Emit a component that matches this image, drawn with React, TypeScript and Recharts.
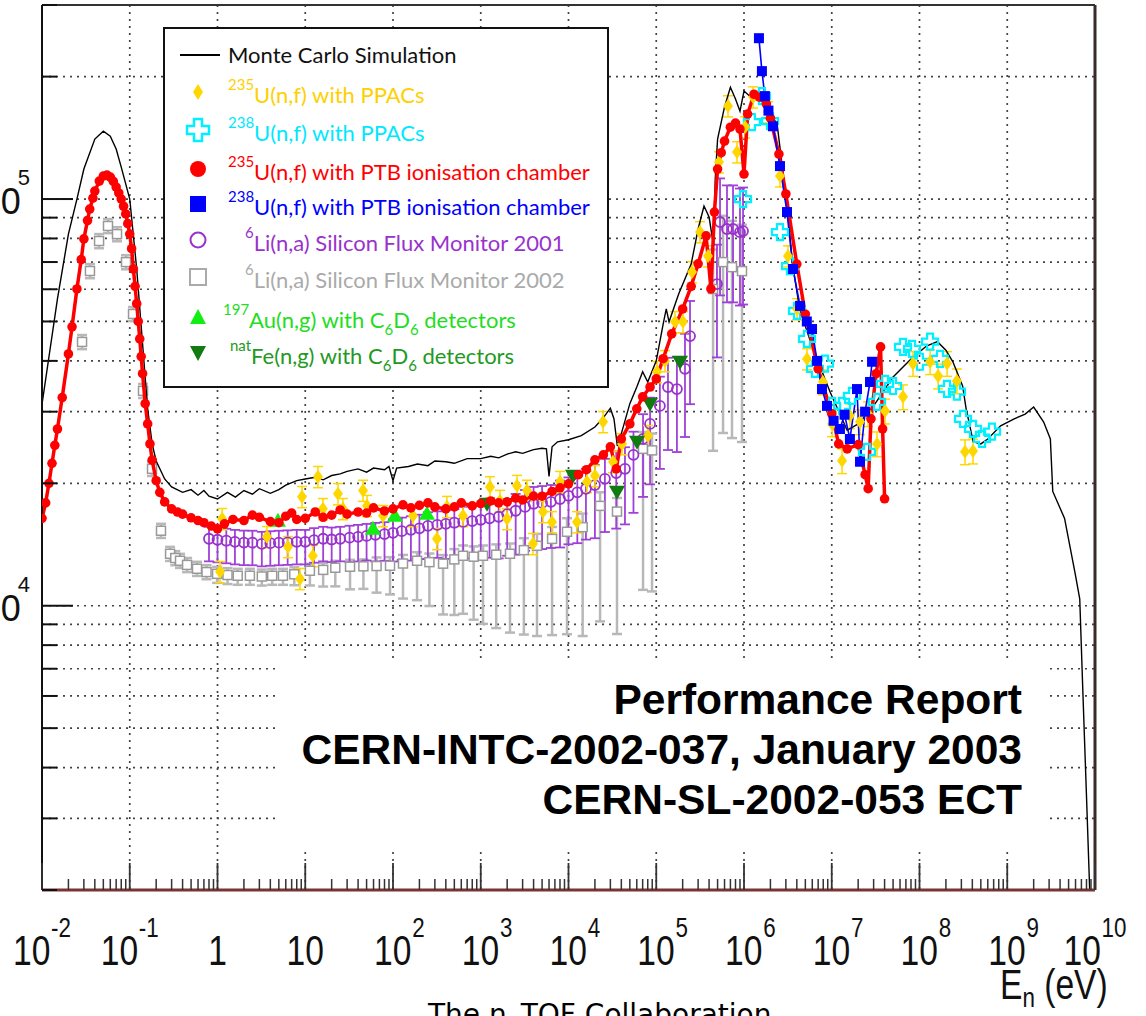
import React from 'react';
import { ComposedChart, Line, Scatter, XAxis, YAxis, CartesianGrid, ErrorBar, Legend, ReferenceLine } from 'recharts';

// neutron energy (eV), counts
const monteCarlo: number[][] = [
  [0.01, 31300], [0.015, 56800], [0.02, 82000], [0.025, 100000], [0.03, 118500], [0.04, 140400], [0.05, 146900],
  [0.06, 142800], [0.07, 132700], [0.08, 119800], [0.1, 100000], [0.12, 67300], [0.14, 44000], [0.16, 30500],
  [0.18, 25000], [0.2, 22700], [0.25, 20500], [0.3, 19600], [0.4, 19000], [0.5, 19300], [0.6, 18700], [0.7, 19200],
  [0.8, 18600], [1, 18300], [1.3, 19000], [1.6, 18500], [2, 19200], [2.5, 18800], [3, 19400], [4, 18900], [5, 19300],
  [6, 19800], [8, 20300], [10, 20500], [13, 20700], [16, 20400], [20, 20900], [25, 21100], [30, 21400], [40, 21700],
  [50, 21300], [60, 21800], [80, 21600], [90, 22000], [100, 20300], [110, 21800], [150, 22000], [190, 22300],
  [250, 22100], [300, 22700], [400, 22600], [500, 22400], [700, 23000], [1000, 23000], [1300, 23300], [1600, 23100],
  [2000, 23600], [2500, 23900], [3000, 23700], [4000, 24200], [5000, 24400], [5600, 24300], [6000, 20800],
  [6500, 24600], [7500, 25300], [1e4, 25600], [1.4e4, 26200], [2e4, 27500], [2.5e4, 29000], [3e4, 30600],
  [3.3e4, 28800], [3.6e4, 24700], [4e4, 26500], [5e4, 31400], [6e4, 34500], [7e4, 37600], [8e4, 35500],
  [1e5, 40000], [1.2e5, 49300], [1.3e5, 53700], [1.4e5, 49900], [1.8e5, 58400], [2.5e5, 69200], [3e5, 84400],
  [3.5e5, 96100], [4e5, 90300], [4.5e5, 76700], [4.7e5, 112000], [5e5, 140400], [6e5, 168500], [7e5, 188300],
  [8e5, 176100], [9e5, 164500], [1e6, 184300], [1.2e6, 178000], [1.5e6, 176100], [2e6, 165000], [2.4e6, 151000],
  [3.1e6, 96000], [3.6e6, 68500], [4.3e6, 53700], [5.6e6, 45300], [7.3e6, 38900], [9.6e6, 33500], [1.5e7, 27000],
  [2e7, 28000], [3e7, 31000], [4e7, 34000], [5e7, 36500], [8e7, 40400], [1.2e8, 43500], [1.6e8, 44600],
  [2e8, 42500], [2.4e8, 39800], [3.1e8, 34700], [3.4e8, 30500], [4.1e8, 25300], [5e8, 25000], [6e8, 25700],
  [8.4e8, 27700], [1.2e9, 28800], [1.6e9, 29600], [2e9, 30800], [2.6e9, 28300], [3.1e9, 25700], [3.3e9, 19100],
  [4.5e9, 16400], [5.9e9, 12100], [6.7e9, 10400], [7.3e9, 6000], [8e9, 3400], [8.7e9, 2000],
];

const u235Ptb: number[][] = [
  [0.01, 16400], [0.011, 17900], [0.012, 20000], [0.013, 22400], [0.014, 24800], [0.015, 27200], [0.017, 32500],
  [0.02, 41600], [0.022, 48500], [0.025, 60100], [0.028, 71000], [0.03, 79800], [0.033, 88500], [0.035, 94500],
  [0.038, 100500], [0.04, 104600], [0.045, 110700], [0.05, 113900], [0.055, 114500], [0.06, 113200],
  [0.065, 110500], [0.07, 107000], [0.075, 103500], [0.08, 100000], [0.085, 96000], [0.09, 91900], [0.095, 87000],
  [0.1, 82000], [0.105, 75500], [0.11, 67300], [0.115, 61000], [0.12, 55300], [0.125, 50000], [0.13, 45300],
  [0.135, 41000], [0.14, 37200], [0.15, 31400], [0.16, 28000], [0.17, 25000], [0.18, 22800], [0.2, 20300],
  [0.22, 19000], [0.25, 18000], [0.3, 17300], [0.35, 17000], [0.4, 16800], [0.5, 16450], [0.6, 16200],
  [0.7, 16000], [0.85, 15700], [1, 15460], [1.2, 15900], [1.5, 16300], [2, 16200], [2.5, 16700], [3, 16500],
  [4, 16100], [5, 16000], [6, 16600], [7, 16900], [8, 16300], [10, 16400], [13, 17000], [16, 16500], [20, 16700],
  [25, 17200], [30, 16800], [40, 17000], [50, 16900], [60, 17400], [80, 17100], [100, 17300], [130, 17700],
  [160, 17400], [200, 17650], [250, 17900], [300, 17500], [400, 17300], [500, 17500], [600, 17900], [800, 17600],
  [1000, 17830], [1300, 18100], [1600, 17900], [2000, 18000], [2500, 18400], [3000, 18200], [4000, 18600],
  [5000, 18590], [6500, 19100], [8000, 19500], [1e4, 19940], [1.3e4, 21000], [1.6e4, 21600], [2e4, 22850],
  [2.5e4, 23500], [3e4, 24590], [3.5e4, 21700], [4e4, 25720], [5e4, 28000], [6e4, 30500], [7e4, 32630],
  [8.5e4, 34500], [1e5, 36130], [1.2e5, 40500], [1.5e5, 46600], [2e5, 53670], [2.5e5, 61000], [3e5, 69300],
  [3.7e5, 81200], [4.2e5, 60100], [4.6e5, 92900], [5e5, 118500], [5.5e5, 130000], [6e5, 138800], [7e5, 150200],
  [8e5, 153700], [9e5, 148600], [1e6, 115200], [1.1e6, 161800], [1.3e6, 181000], [1.5e6, 178000],
  [1.8e6, 171200], [2e6, 158100], [2.5e6, 129000], [3e6, 102900], [4e6, 69200], [5e6, 52100], [7e6, 38230],
  [1e7, 29650], [1.2e7, 25000], [1.5e7, 24310], [2e7, 24900], [2.4e7, 21000], [2.6e7, 19400], [2.8e7, 28810],
  [3.2e7, 37200], [3.6e7, 43300], [3.8e7, 27220], [4e7, 18320],
];

const u238Ptb: number[][] = [
  [1.48e6, 248600], [1.6e6, 206300], [1.73e6, 179100], [1.9e6, 165000], [2.14e6, 151000], [2.57e6, 120500],
  [3.09e6, 92900], [3.62e6, 67300], [4.35e6, 54600], [5.2e6, 50000], [5.96e6, 47900], [6.8e6, 40000],
  [7.74e6, 34100], [8.83e6, 31000], [1.05e7, 28500], [1.24e7, 27200], [1.4e7, 29500], [1.61e7, 25700],
  [1.94e7, 34100], [2.1e7, 22600], [2.4e7, 30000], [2.73e7, 35500], [2.88e7, 39800],
];

const u238Ppac: number[][] = [
  [9.75e5, 100000], [1.23e6, 154600], [1.6e6, 179100], [1.98e6, 155500], [2.57e6, 82900], [3.34e6, 68400],
  [4.02e6, 53100], [5.22e6, 45300], [6.44e6, 38230], [8.37e6, 39400], [1.01e7, 31000], [1.31e7, 31000],
  [1.7e7, 32800], [2.52e7, 23900], [3.28e7, 31700], [4.05e7, 35100], [4.99e7, 34700], [6.49e7, 43300],
  [8.22e7, 42800], [1.01e8, 39800], [1.32e8, 44600], [1.71e8, 40450], [2.06e8, 34140], [2.67e8, 33600],
  [3.13e8, 28810], [4.07e8, 27220], [5.16e8, 25720], [6.7e8, 26800],
];

// energy, counts, error %
const u235Ppac: number[][] = [
  [1.07, 12120, 6], [1.13, 16360, 6], [3.66, 14770, 6], [6.36, 13960, 6], [8.71, 11650, 6], [9.18, 18530, 6],
  [12.2, 13270, 6], [13.96, 20750, 6], [15.9, 17310, 6], [23.6, 18840, 6], [26.9, 17310, 6], [45.5, 19200, 6],
  [50.6, 17620, 6], [76.9, 16640, 6], [169, 16640, 6], [317, 14610, 6], [412, 17520, 6], [628, 16640, 6],
  [1275, 19590, 6], [1656, 18130, 6], [1991, 16360, 6], [2588, 19730, 6], [3365, 19200, 6], [3937, 14200, 6],
  [5117, 17020, 6], [6486, 16070, 6], [8000, 20180, 6], [12500, 16070, 6], [16250, 20180, 6], [20050, 20860, 6],
  [24770, 28330, 6], [32150, 22600, 6], [40740, 25000, 6], [80500, 26170, 6], [102000, 37600, 6],
  [126000, 40000, 6], [163700, 49900, 6], [201800, 49900, 6], [255800, 66200, 6], [315500, 83000, 6],
  [389000, 72400, 6], [519000, 123300, 6], [657000, 169300, 6], [832000, 130500, 6], [1.03e6, 150300, 6],
  [1.27e6, 178100, 6], [1.88e6, 163700, 6], [2.57e6, 113900, 6], [3.17e6, 72400, 6], [4.02e6, 53670, 6],
  [5.22e6, 40450, 6], [7.94e6, 35500, 7], [1.01e7, 28000, 7], [1.31e7, 22720, 7], [1.61e7, 29300, 7],
  [2.1e7, 28330, 7], [2.59e7, 29650, 7], [3.28e7, 25000, 7], [4.05e7, 30100, 7], [6.49e7, 32630, 7],
  [8.43e7, 39400, 7], [1.32e8, 39800, 7], [1.63e8, 36700, 7], [2.06e8, 39400, 7], [2.67e8, 35700, 7],
  [3.3e8, 23900, 7], [4.07e8, 24000, 7],
];

// energy, counts, lower error %, upper error %
const li6Flux2001: number[][] = [
  [0.8, 14610, 12, 7], [1, 14530, 12, 7], [1.26, 14450, 12, 7], [1.58, 14360, 12, 7], [2, 14300, 12, 7],
  [2.5, 14290, 12, 7], [3.2, 14200, 12, 7], [4, 14250, 12, 7], [5, 14290, 12, 7], [6.3, 14320, 12, 7],
  [8, 14360, 12, 7], [10, 14360, 12, 7], [12.6, 14500, 12, 7], [16, 14610, 12, 7], [20, 14550, 12, 7],
  [25, 14610, 12, 7], [32, 14700, 13, 7], [40, 14770, 13, 7], [50, 14850, 13, 7], [63, 14940, 14, 7],
  [80, 15000, 14, 7], [100, 15110, 15, 8], [126, 15250, 15, 8], [160, 15370, 16, 8], [200, 15500, 16, 8],
  [250, 15720, 17, 8], [320, 15800, 17, 8], [400, 15900, 18, 8], [500, 16000, 18, 8], [630, 16070, 19, 9],
  [800, 16150, 19, 9], [1000, 16260, 20, 9], [1260, 16400, 20, 9], [1600, 16550, 21, 9], [2000, 16800, 21, 9],
  [2500, 17120, 22, 10], [3200, 17500, 22, 10], [4000, 17810, 22, 10], [5000, 17900, 23, 10],
  [6300, 18010, 23, 10], [8000, 18300, 24, 11], [1e4, 18630, 24, 11], [12600, 19000, 25, 11],
  [15800, 19390, 25, 12], [20000, 19800, 26, 12], [26000, 20510, 26, 12], [35000, 21200, 27, 13],
  [44000, 21710, 27, 13], [55000, 23500, 28, 14], [70700, 25720, 28, 15], [85000, 28000, 29, 16],
  [110000, 31000, 30, 18], [136000, 34500, 30, 18], [172000, 34100, 30, 20], [212600, 38230, 32, 22],
  [242600, 46030, 32, 22], [492000, 61800, 34, 25], [533000, 87800, 34, 28], [640000, 84400, 34, 28],
  [750000, 84400, 34, 28], [900000, 82900, 34, 28], [975000, 83400, 34, 28],
];

const li6Flux2002: number[][] = [
  [0.0286, 44530, 4, 4], [0.0352, 66540, 4, 4], [0.0447, 78850, 4, 4], [0.0565, 85860, 4, 4], [0.0716, 82000, 4, 4],
  [0.0906, 69980, 4, 4], [0.109, 52170, 4, 4], [0.1416, 33760, 4, 4], [0.1794, 21710, 4, 4], [0.227, 15290, 4, 4],
  [0.288, 13420, 4, 4], [0.33, 13100, 4, 4], [0.374, 12900, 4, 4], [0.45, 12600, 4, 4], [0.584, 12330, 4, 4],
  [0.75, 12100, 4, 4], [0.99, 11980, 5, 4], [1.3, 11900, 5, 4], [1.7, 11850, 5, 4], [2.34, 11850, 5, 4],
  [3.2, 11800, 5, 4], [4.2, 11850, 5, 4], [5.57, 11850, 5, 4], [7.5, 11950, 6, 4], [11.3, 12190, 8, 4],
  [16, 12250, 9, 4], [22, 12400, 10, 4], [32.4, 12470, 12, 4], [46, 12500, 12, 4], [65, 12520, 14, 5],
  [92.5, 12540, 15, 5], [130, 12700, 18, 5], [188, 12900, 20, 5], [260, 12800, 22, 5], [372, 12690, 25, 5],
  [500, 13000, 27, 6], [628, 13270, 28, 6], [830, 13200, 30, 6], [1061, 13270, 32, 6], [1500, 13350, 34, 6],
  [2155, 13420, 36, 6], [3100, 13700, 38, 7], [4375, 14040, 40, 7], [6500, 14600, 42, 7], [9616, 15200, 44, 8],
  [14500, 15600, 46, 8], [22900, 17600, 48, 8], [35700, 17040, 50, 8], [70700, 24310, 55, 10],
  [89500, 24100, 55, 10], [444000, 60100, 60, 25], [577000, 69980, 62, 30], [730000, 68000, 62, 30],
  [949000, 66500, 62, 30],
];

const au197: number[][] = [[4.89, 16180], [59.2, 15460], [105, 16640], [244, 16830]];
const feNat: number[][] = [[1178, 17810], [11250, 20860], [35730, 19060], [60400, 25290], [84900, 31360], [186600, 39800]];

const xDecades = [0.01, 0.1, 1, 10, 100, 1e3, 1e4, 1e5, 1e6, 1e7, 1e8, 1e9, 1e10];
const xTickLabels = [
  ['10', '-2'], ['10', '-1'], ['1', ''], ['10', ''], ['10', '2'], ['10', '3'], ['10', '4'],
  ['10', '5'], ['10', '6'], ['10', '7'], ['10', '8'], ['10', '9'], ['10', '10'],
];
const yTickValues = [
  2000, 3000, 4000, 5000, 6000, 7000, 8000, 9000, 10000, 20000, 30000, 40000, 50000, 60000, 70000, 80000,
  90000, 100000, 200000, 300000,
];
const yMajors = [10000, 100000];
const yTickLabels = [['10', '4'], ['10', '5']];

const xTicks: number[] = [];
xDecades.forEach((d, i) => {
  xTicks.push(d);
  if (i < xDecades.length - 1) [2, 3, 4, 5, 6, 7, 8, 9].forEach((m) => xTicks.push(d * m));
});

const pts = (d: number[][]) => d.map(([x, y]) => ({ x, y }));
const ptsErr = (d: number[][]) =>
  d.map(([x, y, lo, hi]) => ({ x, y, err: [(y * lo) / 100, (y * (hi ?? lo)) / 100] }));

const SANS = "'Liberation Sans', Arial, sans-serif";
const LEG = "Lato, 'Noto Sans', sans-serif";

const XTick = (props: any) => {
  const { x, y, payload } = props;
  const v = payload.value;
  const i = xDecades.findIndex((d) => Math.abs(d - v) / d < 1e-6);
  if (i < 0) return <line x1={x} x2={x} y1={y} y2={y - 11} stroke="#333" strokeWidth={1.5} />;
  const [base, exp] = xTickLabels[i];
  const mid = exp === '' || exp.length > 1;
  return (
    <g>
      <line x1={x} x2={x} y1={y} y2={y - 27} stroke="#333" strokeWidth={1.8} />
      <text
        transform={`translate(${mid ? x : x - 19},${y + 75}) scale(0.8,1)`}
        textAnchor={mid ? 'middle' : 'start'}
        fontFamily={SANS}
        fontSize={42}
        fill="#111"
      >
        {base}
        {exp && <tspan dx={1} dy={-28} fontSize={28}>{exp}</tspan>}
      </text>
    </g>
  );
};

const YTick = (props: any) => {
  const { x, y, payload } = props;
  const i = yMajors.indexOf(payload.value);
  return (
    <g>
      <line x1={x} x2={x + (i >= 0 ? 31 : 15)} y1={y} y2={y} stroke="#111" strokeWidth={2} />
      {i >= 0 && (
        <text x={30} y={y + 15} textAnchor="end" fontFamily={SANS} fontSize={36} fill="#111">
          {yTickLabels[i][0]}
          <tspan dx={-3} dy={-29} fontSize={22}>{yTickLabels[i][1]}</tspan>
        </text>
      )}
    </g>
  );
};

const Diamond = ({ cx, cy }: any) => (
  <path d={`M${cx},${cy - 7}L${cx + 5},${cy}L${cx},${cy + 7}L${cx - 5},${cy}Z`} fill="#ffd700" />
);
const Cross = ({ cx, cy }: any) => (
  <path d={`M${cx - 3},${cy - 8}h6v5h5v6h-5v5h-6v-5h-5v-6h5Z`} fill="none" stroke="#00f0ff" strokeWidth={2.2} />
);
const OpenCircle = ({ cx, cy }: any) => <circle cx={cx} cy={cy} r={5} fill="none" stroke="#9932cc" strokeWidth={1.8} />;
const OpenSquare = ({ cx, cy }: any) => (
  <rect x={cx - 4.5} y={cy - 4.5} width={9} height={9} fill="#fff" stroke="#999" strokeWidth={1.5} />
);
const UpTri = ({ cx, cy }: any) => <path d={`M${cx},${cy - 8}L${cx + 8},${cy + 6}L${cx - 8},${cy + 6}Z`} fill="#11ee11" />;
const DownTri = ({ cx, cy }: any) => <path d={`M${cx - 8},${cy - 6}L${cx + 8},${cy - 6}L${cx},${cy + 8}Z`} fill="#117a11" />;
const RedDot = (p: any) => <circle key={`r${p.index}`} cx={p.cx} cy={p.cy} r={4.8} fill="#ff0000" />;
const BlueDot = (p: any) => <rect key={`b${p.index}`} x={p.cx - 5} y={p.cy - 5} width={10} height={10} fill="#0000ff" />;

const LegendBox = () => {
  const row = (y: number, x: number, color: string, sup: string, body: React.ReactNode) => (
    <text x={x} y={y} fill={color} fontFamily={LEG} fontSize={22}>
      <tspan fontSize={15} dy={-13}>{sup}</tspan>
      <tspan dy={13}>{body}</tspan>
    </text>
  );
  const c6d6 = (
    <>
      C<tspan fontSize={15} dy={7}>6</tspan>
      <tspan dy={-7}>D</tspan>
      <tspan fontSize={15} dy={7}>6</tspan>
      <tspan dy={-7}> detectors</tspan>
    </>
  );
  return (
    <svg width={446} height={361} style={{ display: 'block' }}>
      <rect x={1} y={1} width={444} height={359} fill="#fff" stroke="#111" strokeWidth={2} />
      <line x1={17} x2={57} y1={28} y2={28} stroke="#000" strokeWidth={2} />
      <text x={65} y={36} fill="#111" fontFamily={LEG} fontSize={22}>Monte Carlo Simulation</text>
      <path d="M35,57L40,65L35,73L30,65Z" fill="#ffd700" />
      {row(76, 65, '#ffd000', '235', 'U(n,f) with PPACs')}
      <path d="M31,92h8v7h7v8h-7v7h-8v-7h-7v-8h7Z" fill="none" stroke="#00f0ff" strokeWidth={2.5} />
      {row(114, 65, '#00e8ff', '238', 'U(n,f) with PPACs')}
      <circle cx={35} cy={142} r={8} fill="#ff0000" />
      {row(153, 65, '#ff0000', '235', 'U(n,f) with PTB ionisation chamber')}
      <rect x={27} y={169} width={16} height={16} fill="#0000ff" />
      {row(188, 65, '#0000ff', '238', 'U(n,f) with PTB ionisation chamber')}
      <circle cx={35} cy={213} r={7.5} fill="none" stroke="#9932cc" strokeWidth={2} />
      {row(224, 82, '#9932cc', '6', 'Li(n,a) Silicon Flux Monitor 2001')}
      <rect x={27} y={242} width={16} height={16} fill="none" stroke="#aaa" strokeWidth={2} />
      {row(261, 82, '#aaaaaa', '6', 'Li(n,a) Silicon Flux Monitor 2002')}
      <path d="M35,282L43,297L27,297Z" fill="#11ee11" />
      {row(301, 60, '#22dd22', '197', <>Au(n,g) with {c6d6}</>)}
      <path d="M27,319L43,319L35,334Z" fill="#117a11" />
      {row(337, 67, '#229922', 'nat', <>Fe(n,g) with {c6d6}</>)}
    </svg>
  );
};

export default function App() {
  return (
    <div style={{ position: 'absolute', left: 0, top: 0, width: 1146, height: 1016, overflow: 'hidden', background: '#fff' }}>
      <ComposedChart width={1146} height={1016} margin={{ top: 5, right: 51, bottom: 0, left: 0 }}>
        <CartesianGrid
          stroke="#444"
          strokeWidth={1.7}
          strokeDasharray="2 5"
          verticalValues={xDecades.slice(1, -1)}
          horizontalValues={yTickValues}
        />
        <XAxis
          dataKey="x"
          type="number"
          scale="log"
          domain={[0.01, 1e10]}
          allowDataOverflow
          ticks={xTicks}
          interval={0}
          height={126}
          tickSize={0}
          tickMargin={0}
          tickLine={false}
          tick={<XTick />}
          axisLine={{ stroke: '#7a3434', strokeWidth: 3 }}
        />
        <YAxis
          type="number"
          scale="log"
          domain={[2000, 300000]}
          allowDataOverflow
          ticks={yTickValues}
          interval={0}
          width={42}
          tickSize={0}
          tickMargin={0}
          tickLine={false}
          tick={<YTick />}
          axisLine={{ stroke: '#111', strokeWidth: 2 }}
        />
        <ReferenceLine y={300000} stroke="#333" strokeWidth={2} />
        <ReferenceLine x={1e10} stroke="#3a2a2a" strokeWidth={3} />
        <Scatter data={ptsErr(li6Flux2002)} dataKey="y" shape={<OpenSquare />} isAnimationActive={false} zIndex={410}>
          <ErrorBar dataKey="err" direction="y" width={5} stroke="#b8b8b8" strokeWidth={2.5} />
        </Scatter>
        <Scatter data={ptsErr(li6Flux2001)} dataKey="y" shape={<OpenCircle />} isAnimationActive={false} zIndex={420}>
          <ErrorBar dataKey="err" direction="y" width={5} stroke="#a040d8" strokeWidth={1.8} />
        </Scatter>
        <Line data={pts(monteCarlo)} dataKey="y" type="linear" stroke="#000" strokeWidth={1.4} dot={false} activeDot={false} isAnimationActive={false} zIndex={430} />
        <Line data={pts(u235Ptb)} dataKey="y" type="linear" stroke="#ff0000" strokeWidth={3.5} dot={RedDot} activeDot={false} isAnimationActive={false} zIndex={440} />
        <Line data={pts(u238Ptb)} dataKey="y" type="linear" stroke="#0000ff" strokeWidth={1.6} dot={BlueDot} activeDot={false} isAnimationActive={false} zIndex={450} />
        <Scatter data={pts(u238Ppac)} dataKey="y" shape={<Cross />} isAnimationActive={false} zIndex={460} />
        <Scatter data={ptsErr(u235Ppac)} dataKey="y" shape={<Diamond />} isAnimationActive={false} zIndex={470}>
          <ErrorBar dataKey="err" direction="y" width={5} stroke="#ffd700" strokeWidth={1.5} />
        </Scatter>
        <Scatter data={pts(au197)} dataKey="y" shape={<UpTri />} isAnimationActive={false} zIndex={480} />
        <Scatter data={pts(feNat)} dataKey="y" shape={<DownTri />} isAnimationActive={false} zIndex={490} />
        <Legend
          layout="vertical"
          align="center"
          verticalAlign="middle"
          wrapperStyle={{ left: 163, top: 27, width: 446, height: 361, margin: 0, padding: 0 }}
          content={<LegendBox />}
        />
      </ComposedChart>
      <svg width={1146} height={1016} style={{ position: 'absolute', left: 0, top: 0, pointerEvents: 'none' }}>
        <rect x={280} y={658} width={770} height={192} fill="#fff" />
        <g fontFamily={SANS} fontWeight="bold" fontSize={42.5} textAnchor="end" fill="#000">
          <text x={1022} y={714}>Performance Report</text>
          <text x={1022} y={764}>CERN-INTC-2002-037, January 2003</text>
          <text x={1022} y={814}>CERN-SL-2002-053 ECT</text>
        </g>
        <text transform="translate(1000,999) scale(0.8,1)" fontFamily={SANS} fontSize={42} fill="#111">
          E<tspan fontSize={28} dy={8}>n</tspan>
          <tspan dy={-8}> (eV)</tspan>
        </text>
        <text x={428} y={1024} fontFamily="'DejaVu Sans', Verdana, sans-serif" fontSize={28} fill="#000">
          The n_TOF Collaboration
        </text>
      </svg>
    </div>
  );
}
